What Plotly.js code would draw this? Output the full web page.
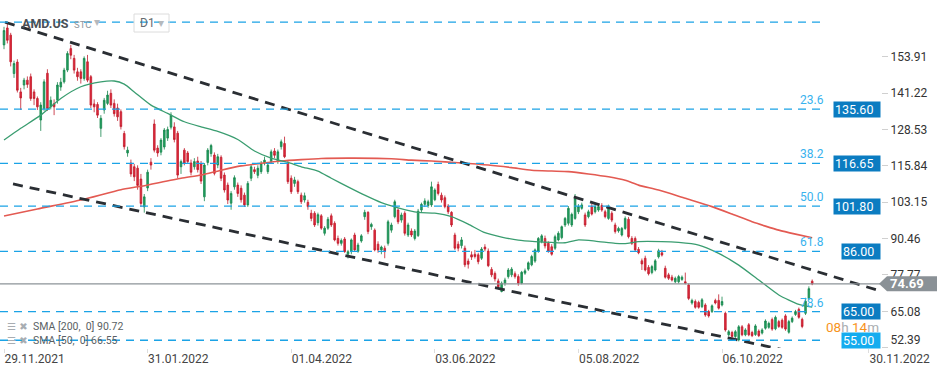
<!DOCTYPE html>
<html><head><meta charset="utf-8">
<script src="https://cdn.plot.ly/plotly-3.0.1.min.js"></script>
<style>html,body{margin:0;padding:0;background:#fff;}#chart{width:949px;height:373px;}</style>
</head><body><div id="chart"></div>
<script>
const opens = [
158.0,163.9,161.4,148.0,152.0,141.6,144.0,145.7,146.9,141.6,
139.3,131.8,135.8,148.1,136.4,137.5,138.7,143.3,145.1,149.2,
156.7,153.3,148.6,148.6,146.3,152.1,146.9,137.4,137.2,128.9,
135.3,137.6,141.1,137.6,136.0,134.7,127.1,120.3,116.8,115.5,
115.0,111.2,101.5,108.1,117.1,130.4,122.0,120.6,122.4,125.5,
129.3,129.4,127.2,115.5,121.3,120.3,116.8,115.5,117.5,116.5,
105.0,117.0,120.1,119.6,116.1,118.8,112.6,109.1,102.8,108.5,
109.1,108.0,105.6,102.2,111.5,114.5,112.5,113.8,116.7,113.8,
117.3,121.0,117.3,122.5,123.6,116.7,111.5,109.7,110.3,105.6,
103.9,103.1,99.3,99.3,96.0,98.4,92.3,94.1,98.4,95.8,
90.5,88.8,90.3,85.0,85.9,91.7,86.0,89.6,98.1,99.6,
94.6,93.4,88.5,86.5,87.1,88.8,93.4,98.1,100.4,96.9,
99.3,91.7,93.1,90.5,91.5,100.4,102.4,102.0,102.2,104.0,
109.3,105.6,104.7,101.8,99.6,91.7,88.5,88.0,87.1,82.6,
84.8,85.0,84.8,83.6,87.5,86.1,79.7,78.3,75.7,72.0,
74.9,77.2,77.8,78.2,77.2,74.9,78.4,79.8,81.3,82.6,
86.1,89.4,90.5,88.8,87.6,87.1,90.0,90.8,95.2,95.8,
95.2,97.5,99.8,101.0,98.7,98.1,101.6,99.8,100.4,102.0,
99.8,97.5,99.3,95.2,93.1,91.7,94.0,97.2,90.5,90.5,
86.7,82.7,83.6,80.4,78.6,79.5,84.1,85.5,80.1,77.8,
77.0,75.4,75.4,76.2,75.4,74.3,68.0,68.5,68.2,66.7,
67.3,65.0,65.0,68.9,68.9,67.3,64.4,56.9,57.7,56.3,
55.1,59.7,56.9,60.4,57.7,57.0,58.2,57.5,59.2,59.5,
62.2,59.0,61.5,62.0,63.5,57.8,61.5,64.0,65.8,62.3,
64.4,69.5,75.6];
const highs = [
164.3,165.5,162.2,152.5,153.0,143.0,146.5,147.0,148.0,142.5,
140.0,138.0,146.0,149.5,140.0,139.0,145.0,146.5,150.0,155.8,
158.0,154.5,150.0,149.5,154.0,154.5,147.5,139.0,138.0,133.5,
139.5,142.0,142.5,139.0,137.5,135.5,128.0,122.5,118.0,116.5,
116.0,113.0,106.0,114.5,118.5,132.0,123.0,125.5,129.0,129.5,
134.5,131.0,128.0,118.0,122.0,121.0,118.0,118.5,119.0,117.5,
116.8,122.0,123.5,120.5,120.0,119.5,113.5,110.0,107.0,112.5,
110.0,109.0,106.5,110.5,116.5,115.5,116.0,117.5,119.0,117.0,
121.5,122.0,121.5,125.0,126.0,117.5,112.5,112.0,111.0,106.5,
106.5,104.0,100.5,100.0,99.5,99.0,94.8,98.0,99.2,96.5,
91.5,90.5,91.0,86.5,90.5,92.5,89.0,92.0,100.5,100.0,
96.0,94.0,89.5,88.0,88.0,97.0,96.0,104.0,101.0,99.5,
100.0,96.0,94.0,93.8,100.8,103.0,104.5,104.0,110.3,108.0,
110.3,106.5,105.5,102.5,100.0,92.5,89.5,91.0,88.0,83.5,
86.0,86.5,85.5,87.5,88.5,87.0,80.5,79.0,76.5,75.5,
76.8,80.2,80.5,79.0,78.0,79.2,80.0,82.5,84.8,87.0,
91.0,92.0,91.5,89.5,88.5,91.8,93.0,95.0,98.0,101.8,
99.5,106.0,102.5,103.0,99.5,100.5,102.5,102.5,102.3,102.8,
100.5,102.3,100.0,96.0,94.6,94.5,98.2,98.0,91.3,91.2,
87.5,83.5,84.5,81.2,81.3,83.3,86.9,86.5,81.0,78.5,
77.8,77.2,77.8,77.6,78.6,74.8,69.5,69.2,68.8,69.7,
67.9,65.6,67.5,69.5,71.0,70.2,65.0,58.6,58.3,58.6,
60.3,60.3,59.2,61.0,58.3,60.6,58.8,59.2,62.3,61.5,
62.9,63.6,62.1,62.6,64.1,62.1,63.3,65.6,66.4,62.9,
69.8,73.8,76.2];
const lows = [
156.5,158.5,150.5,146.5,141.4,135.3,142.5,143.0,138.5,137.0,
135.3,128.0,135.0,135.0,135.5,133.5,137.5,142.0,144.5,148.5,
153.0,148.0,145.5,144.5,145.5,145.0,136.0,134.5,132.5,125.9,
134.0,137.0,136.0,133.0,131.5,128.5,121.5,119.0,112.0,110.5,
107.5,101.5,99.5,107.0,114.5,120.5,119.0,119.5,121.5,124.5,
128.5,124.0,111.5,113.0,116.0,116.5,112.5,114.5,113.5,109.5,
103.5,116.0,119.0,112.5,115.0,110.5,106.5,102.5,100.5,107.5,
105.0,103.0,101.5,101.5,110.5,113.0,111.5,113.0,116.0,113.0,
116.5,118.5,116.5,121.5,118.5,109.5,106.0,108.5,106.0,102.5,
103.0,100.5,96.5,94.5,95.0,93.5,91.5,93.5,94.5,89.5,
88.0,88.0,85.5,83.5,85.0,86.0,85.5,89.0,97.0,92.0,
93.5,86.0,85.5,85.0,83.6,88.0,92.5,97.5,95.5,96.0,
91.5,91.0,91.0,89.8,91.0,99.5,101.5,101.2,101.5,103.5,
105.5,103.0,101.0,99.0,94.5,86.5,86.0,87.0,80.5,80.0,
83.0,83.5,81.5,83.0,86.0,80.5,77.0,75.5,73.0,71.7,
74.0,76.5,77.0,76.5,74.0,74.5,77.8,79.2,80.8,82.0,
85.5,88.8,87.0,85.5,84.5,86.5,89.5,90.2,94.5,95.0,
94.5,97.0,99.0,100.5,94.5,97.5,98.5,99.2,99.8,99.8,
97.5,97.0,96.2,92.2,92.5,91.2,93.5,90.5,88.2,86.0,
85.0,79.5,79.0,77.6,78.0,79.0,83.5,84.2,76.5,76.0,
75.5,74.9,74.8,75.7,74.5,69.0,67.4,66.0,66.0,66.2,
63.2,62.9,64.5,67.5,65.7,66.8,58.0,56.3,55.8,55.8,
54.6,56.4,56.4,56.4,56.1,56.5,56.1,57.0,58.7,59.0,
58.3,58.5,59.3,59.0,58.3,57.3,61.0,63.5,62.5,59.2,
63.8,69.0,74.2];
const closes = [
163.0,159.6,152.1,151.5,142.2,139.5,145.7,144.2,139.3,139.3,
136.4,137.0,145.1,135.8,138.7,136.4,144.0,145.0,149.2,155.0,
154.4,149.2,146.9,146.3,153.3,145.7,137.0,136.4,133.5,132.4,
138.7,140.5,137.0,134.0,132.9,129.5,122.5,121.3,113.0,112.0,
109.0,102.7,105.0,113.6,116.1,121.3,120.3,124.8,128.3,128.5,
133.5,125.0,112.6,117.3,116.8,117.3,113.6,117.3,114.5,110.5,
116.1,121.3,122.9,113.2,119.0,111.5,107.4,103.9,106.2,111.7,
106.2,104.0,102.2,109.7,115.5,113.8,115.0,116.7,117.8,116.1,
120.7,119.5,120.7,124.2,119.0,110.3,106.8,110.9,106.8,103.3,
105.4,101.6,97.5,95.2,98.8,94.1,94.1,97.2,95.2,90.0,
88.8,89.8,85.9,85.9,90.0,86.5,88.2,91.4,99.6,92.9,
95.4,86.5,86.5,87.5,85.9,96.3,95.2,103.3,96.3,98.7,
92.3,95.2,91.7,93.1,100.0,102.4,103.6,103.3,108.5,107.4,
106.2,103.9,101.6,99.8,95.2,87.1,87.1,90.0,81.3,81.5,
84.0,84.2,82.4,86.8,86.8,81.0,77.8,76.4,73.7,74.9,
76.0,79.5,79.8,77.2,74.9,78.7,79.2,82.0,84.2,86.5,
90.5,91.4,87.9,86.1,85.0,91.1,92.3,94.6,97.5,101.0,
98.9,104.5,101.6,102.2,95.2,99.8,99.0,101.6,101.6,100.4,
98.1,101.6,96.9,92.9,94.0,94.0,97.5,91.1,88.8,86.5,
85.5,81.6,79.5,78.2,80.7,82.7,86.2,84.7,77.0,76.6,
76.0,76.6,77.2,77.0,74.9,69.6,68.9,66.5,66.5,69.1,
63.8,63.5,67.0,68.0,66.2,68.5,58.6,58.0,56.3,58.0,
59.7,56.9,58.6,56.9,56.6,60.0,56.6,58.6,61.7,60.9,
58.9,63.0,59.8,59.5,58.9,61.5,62.7,65.0,63.0,59.8,
68.6,73.0,74.69];

const sma50Idx = [0,5,11,17,23,29,33,36,39,44,49,54,59,64,70,75,80,85,89,94,98,103,108,113,118,124,129,134,139,144,149,154,159,164,168,172,177,183,186,190,197,202,208,214,220,226,232,238,242];
const sma50Val = [124.8,128.9,133.5,139.3,143.4,145.1,145.4,144.3,141.6,137.0,134.1,131.2,129.4,127.8,125.0,121.0,118.5,117.0,115.5,114.0,111.5,108.5,105.6,103.0,101.2,99.6,99.3,98.1,95.5,92.5,91.0,89.9,89.4,89.1,89.0,90.0,89.6,88.8,88.7,89.4,89.4,89.1,88.2,85.3,81.2,76.0,70.8,67.5,66.55];
const sma200Idx = [0,10,23,35,41,53,59,65,71,77,83,89,95,105,116,122,128,136,145,152,158,164,169,175,181,186,190,196,204,212,218,224,228,232,237,242];
const sma200Val = [98.3,100.8,103.9,107.5,108.7,111.5,112.6,114.3,115.8,116.7,117.5,118.0,118.4,118.5,118.3,117.8,117.5,116.9,116.1,115.2,114.3,114.0,113.8,113.0,112.0,110.8,109.1,107.4,104.5,101.6,99.0,96.3,94.8,93.4,92.0,90.72];

const upperTrendIdx = [0.3, 262.3];
const upperTrendVal = [165.9, 72.2];
const lowerTrendIdx = [2.7, 236];
const lowerTrendVal = [109.5, 51.0];

const topLevel = 165.9;
const levelVals = [135.60, 116.65, 101.80, 86.00, 65.00, 55.00];
const fibLabels = ['23.6', '38.2', '50.0', '61.8', '78.6', ''];
const lastPrice = 74.69;

const yTickVals = [153.91, 141.22, 128.53, 115.84, 103.15, 90.46, 77.77, 65.08, 52.39];
const xTickIdx = [0, 43, 86, 129, 172, 215, 259];
const xTickLabels = ['29.11.2021', '31.01.2022', '01.04.2022', '03.06.2022', '05.08.2022', '06.10.2022', '30.11.2022'];

const smaNames = ['SMA [200,  0]', 'SMA [50,  0]'];
const smaLast = [90.72, 66.55];

const idx = opens.map((_, i) => i);

// pixel helpers for layout placement (plot area is 881 x 348 px)
const PW = 881, PH = 348;
const px = x => x / PW;
const py = y => 1 - y / PH;

const traces = [
  {
    type: 'candlestick', x: idx, open: opens, high: highs, low: lows, close: closes,
    increasing: {line: {color: '#17864d', width: 0.8}, fillcolor: '#22a060'},
    decreasing: {line: {color: '#c21c2c', width: 0.8}, fillcolor: '#e02a3c'},
    whiskerwidth: 0, hoverinfo: 'skip'
  },
  {type: 'scatter', mode: 'lines', x: sma200Idx, y: sma200Val,
   line: {color: '#e35a52', width: 1.6, shape: 'spline', smoothing: 0.6}, hoverinfo: 'skip'},
  {type: 'scatter', mode: 'lines', x: sma50Idx, y: sma50Val,
   line: {color: '#3a9d70', width: 1.3, shape: 'spline', smoothing: 0.6}, hoverinfo: 'skip'},
  {type: 'scatter', mode: 'lines', x: upperTrendIdx, y: upperTrendVal,
   line: {color: '#2a2e33', width: 2.8, dash: '10px,7px'}, hoverinfo: 'skip'},
  {type: 'scatter', mode: 'lines', x: lowerTrendIdx, y: lowerTrendVal,
   line: {color: '#2a2e33', width: 2.8, dash: '10px,7px'}, hoverinfo: 'skip'}
];

const shapes = [];
[topLevel].concat(levelVals).forEach(v => {
  shapes.push({type: 'line', xref: 'paper', x0: 0, x1: px(826), yref: 'y', y0: v, y1: v,
    line: {color: '#1ba3e6', width: 1.3, dash: '8px,6px'}, layer: 'above'});
});
shapes.push({type: 'line', xref: 'paper', x0: 0, x1: 1, yref: 'y', y0: lastPrice, y1: lastPrice,
  line: {color: '#8c9398', width: 1.2}, layer: 'above'});
shapes.push({type: 'path', xref: 'paper', yref: 'y', xsizemode: 'pixel', ysizemode: 'pixel',
  xanchor: 1, yanchor: lastPrice,
  path: 'M -2,0 L 6,-7.5 L 56,-7.5 L 56,7.5 L 6,7.5 Z',
  fillcolor: '#8a9196', line: {width: 0}, layer: 'above'});
// D1 selector box
shapes.push({type: 'rect', xref: 'paper', yref: 'paper', x0: px(134), x1: px(169), y0: py(32), y1: py(14),
  line: {color: '#dcdcdc', width: 1}, fillcolor: 'rgba(0,0,0,0)', layer: 'above'});

const annotations = [];
levelVals.forEach((v, k) => {
  const t = v.toFixed(2);
  annotations.push({xref: 'paper', x: 1, xanchor: 'right', yref: 'y', y: v, yanchor: 'middle',
    text: t, showarrow: false, align: 'left', width: t.length === 6 ? 44 : 36, height: 13, borderpad: 1,
    bgcolor: v === 55 ? '#14acef' : '#0b7cc1', font: {color: '#ffffff', size: 12.5}});
  if (fibLabels[k]) {
    annotations.push({xref: 'paper', x: px(826), xanchor: 'right', yref: 'y', y: v, yanchor: 'middle', yshift: 9,
      text: fibLabels[k], showarrow: false, font: {color: '#38b2ee', size: 12}});
  }
});
annotations.push({xref: 'paper', x: px(888), xanchor: 'left', yref: 'y', y: lastPrice, yanchor: 'middle',
  text: '<b>' + lastPrice.toFixed(2) + '</b>', showarrow: false, font: {color: '#ffffff', size: 13}});
annotations.push({xref: 'paper', x: px(880), xanchor: 'right', yref: 'paper', y: py(326.5), yanchor: 'middle',
  text: '<span style="color:#f7941d">08</span><span style="color:#a9adb1">h</span> <span style="color:#f7941d">14</span><span style="color:#a9adb1">m</span>',
  showarrow: false, borderpad: 0, font: {size: 13.5}});
// header
annotations.push({xref: 'paper', x: px(20), xanchor: 'left', yref: 'paper', y: py(23), yanchor: 'middle',
  text: '<b>AMD.US</b>', showarrow: false, font: {color: '#4b5056', size: 12.5}});
annotations.push({xref: 'paper', x: px(72), xanchor: 'left', yref: 'paper', y: py(24), yanchor: 'middle',
  text: 'STC', showarrow: false, font: {color: '#8f969c', size: 9.5}});
annotations.push({xref: 'paper', x: px(92), xanchor: 'left', yref: 'paper', y: py(22), yanchor: 'middle',
  text: '▾', showarrow: false, font: {color: '#b5b9bd', size: 12, family: 'DejaVu Sans'}});
annotations.push({xref: 'paper', x: px(138), xanchor: 'left', yref: 'paper', y: py(23), yanchor: 'middle',
  text: 'D1', showarrow: false, font: {color: '#666b70', size: 12}});
annotations.push({xref: 'paper', x: px(156), xanchor: 'left', yref: 'paper', y: py(23), yanchor: 'middle',
  text: '▾', showarrow: false, font: {color: '#b5b9bd', size: 12, family: 'DejaVu Sans'}});
// SMA legend
smaNames.forEach((n, k) => {
  const yy = 326 + k * 14;
  annotations.push({xref: 'paper', x: px(5), xanchor: 'left', yref: 'paper', y: py(yy), yanchor: 'middle',
    text: '<span style="color:#a8adb2">☰ ✖</span>', showarrow: false, font: {size: 10, family: 'DejaVu Sans'}});
  annotations.push({xref: 'paper', x: px(31), xanchor: 'left', yref: 'paper', y: py(yy), yanchor: 'middle',
    text: n + ' ' + smaLast[k].toFixed(2), showarrow: false, font: {color: '#5a5f64', size: 10.5}});
});

const yTickText = yTickVals.map((v, k) => k === yTickVals.length - 1 ? v.toFixed(2) + '<br> ' : v.toFixed(2));

const layout = {
  width: 949, height: 373,
  margin: {l: 0, r: 68, t: 0, b: 25, pad: 0},
  paper_bgcolor: '#ffffff', plot_bgcolor: '#ffffff',
  showlegend: false,
  font: {family: 'Roboto, "Open Sans", sans-serif', color: '#333', size: 12},
  xaxis: {range: [-1.2, 262.6], rangeslider: {visible: false}, tickmode: 'array',
    tickvals: xTickIdx, ticktext: xTickLabels, ticklabelposition: 'outside right',
    ticks: 'outside', ticklen: 4, tickcolor: '#dddddd', showgrid: false, zeroline: false, showline: false,
    tickfont: {size: 12, color: '#444'}, fixedrange: true},
  yaxis: {side: 'right', range: [52.3, 173.65], tickmode: 'array', tickvals: yTickVals, ticktext: yTickText,
    ticks: 'outside', ticklen: 6, tickcolor: '#d0d0d0', showgrid: false, zeroline: false, showline: false,
    tickfont: {size: 12, color: '#333'}, fixedrange: true},
  shapes: shapes,
  annotations: annotations
};

Plotly.newPlot('chart', traces, layout, {staticPlot: true, displayModeBar: false});
</script>
</body></html>
